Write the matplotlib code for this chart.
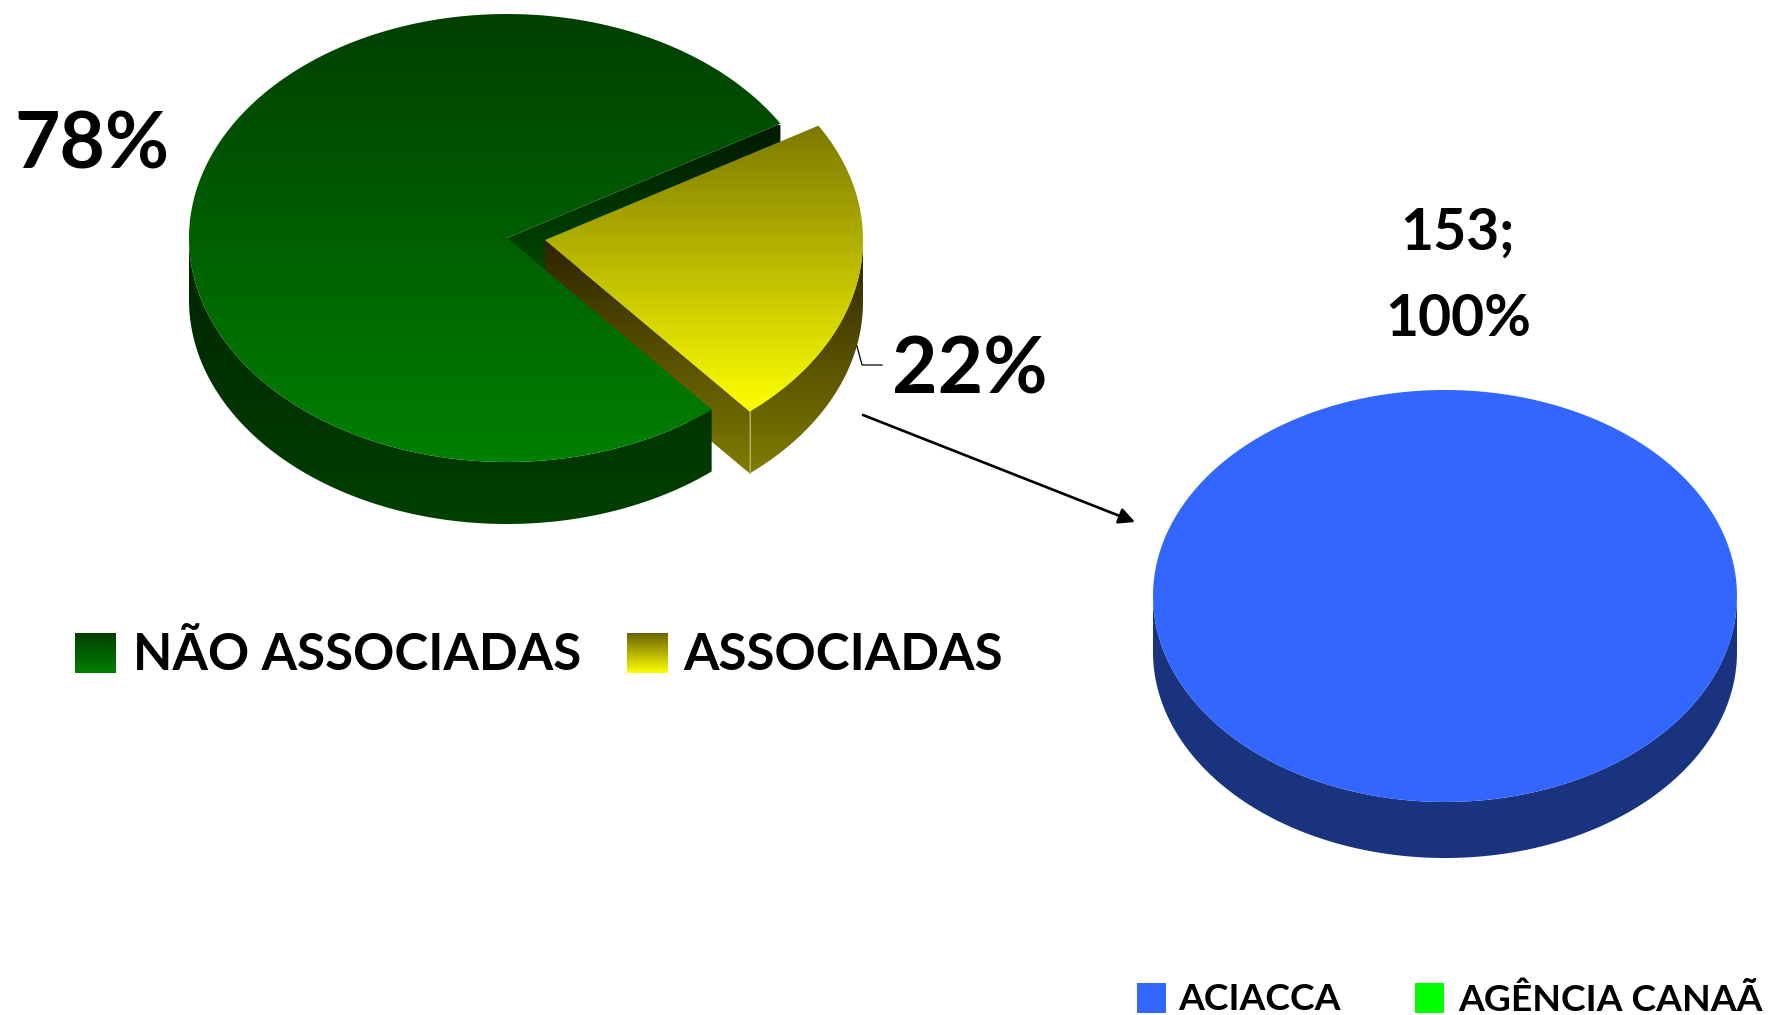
import numpy as np
import matplotlib
matplotlib.use('Agg')
import matplotlib.pyplot as plt
from matplotlib.colors import to_rgb
from matplotlib.patches import Polygon, Rectangle

plt.rcParams['font.family'] = ['Lato', 'DejaVu Sans']

main_labels = ['NÃO ASSOCIADAS', 'ASSOCIADAS']
main_shares = [77.6, 22.4]
detail_labels = ['ACIACCA', 'AGÊNCIA CANAÃ']
detail_values = [153, 0]
detail_share = 100

fig = plt.figure(figsize=(17.68, 10.15), dpi=100)
ax = fig.add_axes([0, 0, 1, 1])
ax.set_xlim(0, 1768)
ax.set_ylim(1015, 0)
ax.axis('off')


def arc(cx, cy, rx, ry, t0, t1, n=200):
    t = np.radians(np.linspace(t0, t1, n))
    return np.column_stack([cx + rx * np.cos(t), cy - ry * np.sin(t)])


def grad_fill(pts, y0, y1, c0, c1, z):
    # vertical gradient clipped to a polygon
    f = np.linspace(0, 1, 256)[:, None, None]
    img = (1 - f) * np.array(to_rgb(c0))[None, None, :] + f * np.array(to_rgb(c1))[None, None, :]
    poly = Polygon(pts, closed=True, transform=ax.transData, fc='none', ec='none')
    ax.add_patch(poly)
    im = ax.imshow(img, extent=[0, 1768, y1, y0], aspect='auto', zorder=z, interpolation='bilinear')
    im.set_clip_path(poly)
    ax.set_xlim(0, 1768)
    ax.set_ylim(1015, 0)


def side(pts, depth):
    return np.vstack([pts, (pts + [0, depth])[::-1]])


# main pie
cx, cy, rx, ry, depth = 507, 238, 318, 224, 62
start = 30.7
t_split = start + 360 * main_shares[0] / sum(main_shares)
ox, oy = 38, 2
yx, yy = cx + ox, cy + oy

# cut faces first, the green slice then covers part of the yellow one
green_cut = np.array([[cx, cy], arc(cx, cy, rx, ry, start, start, 1)[0]])
grad_fill(side(green_cut, depth), 125, 300, '#001a00', '#005000', 1)
yellow_rim = arc(yx, yy, rx, ry, t_split, 360)
yellow_cut = np.array([[yx, yy], arc(yx, yy, rx, ry, t_split, t_split, 1)[0]])
grad_fill(side(yellow_cut, depth), 240, 475, '#2e2300', '#807d00', 2)
grad_fill(side(yellow_rim, depth), 240, 475, '#2e2300', '#807d00', 2)

green_rim = arc(cx, cy, rx, ry, 180, t_split)
grad_fill(side(green_rim, depth), 125, 525, '#001800', '#004000', 3)
green_top = np.vstack([[cx, cy], arc(cx, cy, rx, ry, start, t_split)])
grad_fill(green_top, 14, 462, '#003f00', '#008000', 4)

yellow_top = np.vstack([[yx, yy], arc(yx, yy, rx, ry, t_split, 360 + start)])
grad_fill(yellow_top, 124, 412, '#7c7800', '#ffff00', 5)
edge = yellow_cut[1]
ax.plot([edge[0], edge[0]], [edge[1], edge[1] + depth], color='#b5ae60', lw=0.8, zorder=6)

# leader line and arrow
ax.plot([857, 862, 882], [346, 365, 365], color='black', lw=0.9, zorder=6)
ax.annotate('', xy=(1135, 522), xytext=(863, 415),
            arrowprops=dict(arrowstyle='-|>', color='black', lw=1.9, mutation_scale=24, shrinkA=0, shrinkB=0))

# second pie
bx, by, brx, bry, bdepth = 1445, 596, 292, 206, 56
blue_rim = arc(bx, by, brx, bry, 180, 360)
ax.add_patch(Polygon(side(blue_rim, bdepth), fc='#19337f', ec='none', zorder=1))
theta = 360 * detail_values[0] / sum(detail_values)
ax.add_patch(Polygon(arc(bx, by, brx, bry, 0, theta, 400), fc='#3366ff', ec='none', zorder=2))

# value labels
ax.text(92, 146, f'{main_shares[0]:.0f}%', fontsize=56.5, fontweight='bold', ha='center', va='center')
ax.text(970, 372, f'{main_shares[1]:.0f}%', fontsize=56.5, fontweight='bold', ha='center', va='center')
ax.text(1458, 233, f'{detail_values[0]};', fontsize=41, fontweight='bold', ha='center', va='center')
ax.text(1458, 319, f'{detail_share}%', fontsize=41, fontweight='bold', ha='center', va='center')

# legends
swatch_x = [75, 627]
text_x = [133, 683]
for i in range(2):
    grad_fill([[swatch_x[i], 633], [swatch_x[i] + 41, 633], [swatch_x[i] + 41, 673], [swatch_x[i], 673]],
              633, 673, ['#003f00', '#6b6300'][i], ['#008000', '#ffff00'][i], 3)
    ax.text(text_x[i], 656, main_labels[i], fontsize=36.8, fontweight='bold', ha='left', va='center')

swatch_x2 = [1137, 1415]
text_x2 = [1178, 1458]
colors2 = ['#3366ff', '#00ff00']
for i in range(2):
    ax.add_patch(Rectangle((swatch_x2[i], 983), 29, 30, fc=colors2[i], ec='none', zorder=3))
    ax.text(text_x2[i], 1000, detail_labels[i], fontsize=26.8, fontweight='bold', ha='left', va='center')

fig.savefig('out.png', dpi=100)
